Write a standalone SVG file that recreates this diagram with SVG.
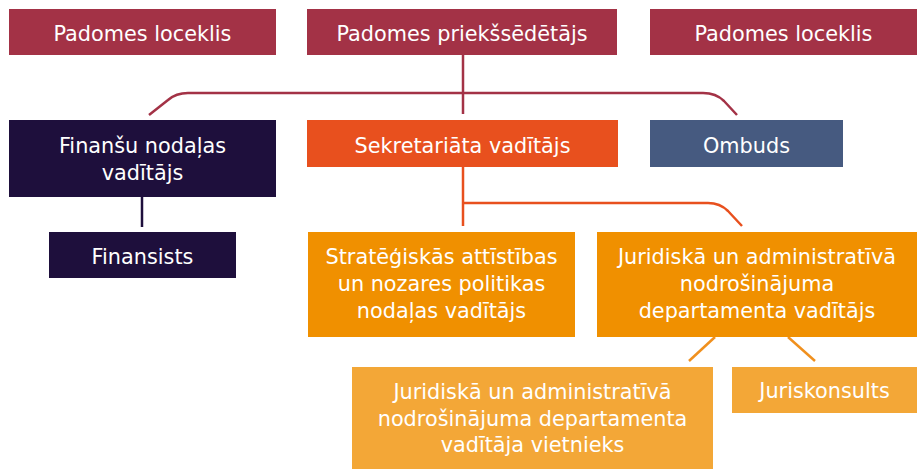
<svg xmlns="http://www.w3.org/2000/svg" width="922" height="469" viewBox="0 0 922 469">
<style>
text{font-family:"DejaVu Sans",Verdana,sans-serif;font-size:20.8px;fill:#ffffff;text-anchor:middle}
.conn{fill:none;stroke-width:2.5}
</style>
<rect width="922" height="469" fill="#ffffff"/>
<g id="connectors">
<path class="conn" stroke="#A33246" d="M463 55 V114"/>
<path class="conn" stroke="#A33246" d="M149 115 L168 100 Q176 93 188 93 H703 Q716 93 724 101 L737 115"/>
<path class="conn" stroke="#E8501E" d="M463 167 V226"/>
<path class="conn" stroke="#E8501E" d="M463 203 H708 Q720 203 728 211 L742 226"/>
<path class="conn" stroke="#1E0F3C" d="M142 197 V227"/>
<path class="conn" stroke="#F0901E" d="M715 337 L689 361"/>
<path class="conn" stroke="#F0901E" d="M788 337 L815 361"/>
</g>
<g id="n1"><rect x="9" y="9" width="267" height="46" fill="#A33246"/><text x="142.5" y="41">Padomes loceklis</text></g>
<g id="n2"><rect x="307" y="9" width="310" height="46" fill="#A33246"/><text x="462" y="41">Padomes priekšsēdētājs</text></g>
<g id="n3"><rect x="650" y="9" width="267" height="46" fill="#A33246"/><text x="783.5" y="41">Padomes loceklis</text></g>
<g id="n4"><rect x="9" y="120" width="267" height="77" fill="#1E0F3C"/><text x="142.5" y="153">Finanšu nodaļas</text><text x="142.5" y="180">vadītājs</text></g>
<g id="n5"><rect x="307" y="120" width="311" height="47" fill="#E8501E"/><text x="462.5" y="153">Sekretariāta vadītājs</text></g>
<g id="n6"><rect x="650" y="120" width="193" height="47" fill="#465A80"/><text x="746.5" y="153">Ombuds</text></g>
<g id="n7"><rect x="49" y="232" width="187" height="46" fill="#1E0F3C"/><text x="142.5" y="264">Finansists</text></g>
<g id="n8"><rect x="308" y="232" width="267" height="105" fill="#F09000"/><text x="441.5" y="264">Stratēģiskās attīstības</text><text x="441.5" y="291">un nozares politikas</text><text x="441.5" y="318">nodaļas vadītājs</text></g>
<g id="n9"><rect x="597" y="232" width="320" height="105" fill="#F09000"/><text x="757" y="264">Juridiskā un administratīvā</text><text x="757" y="291">nodrošinājuma</text><text x="757" y="318">departamenta vadītājs</text></g>
<g id="n10"><rect x="352" y="367" width="361" height="102" fill="#F3A737"/><text x="532.5" y="399">Juridiskā un administratīvā</text><text x="532.5" y="426">nodrošinājuma departamenta</text><text x="532.5" y="452">vadītāja vietnieks</text></g>
<g id="n11"><rect x="732" y="367" width="185" height="46" fill="#F3A737"/><text x="824.5" y="398">Juriskonsults</text></g>
</svg>
